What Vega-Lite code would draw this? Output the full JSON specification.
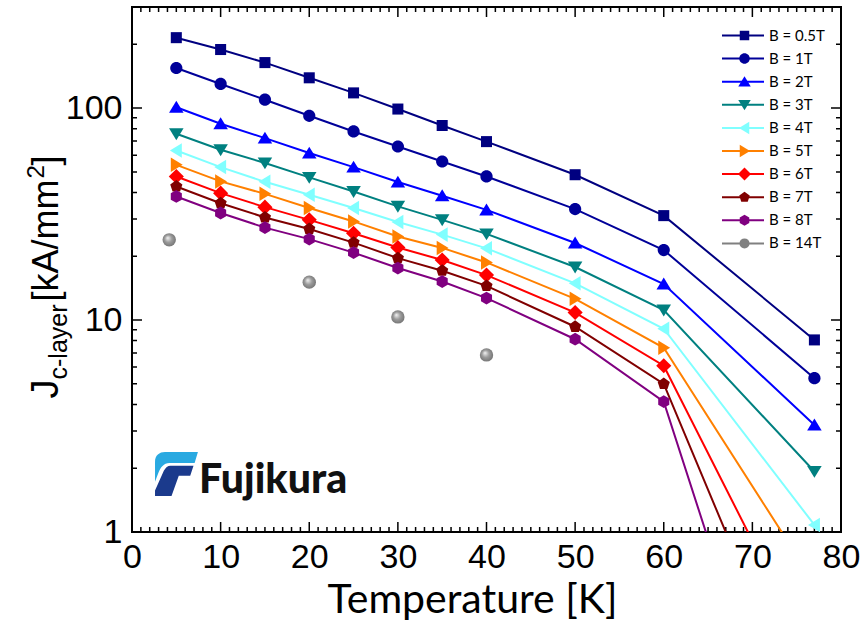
{
  "$schema": "https://vega.github.io/schema/vega-lite/v6.json",
  "width": 709,
  "height": 525,
  "autosize": "none",
  "padding": {"left": 132, "top": 7, "right": 19, "bottom": 108},
  "background": "white",
  "config": {"view": {"stroke": "black", "strokeWidth": 2}, "axis": {"grid": false}},
  "data": {"values": [
    {"B": "B = 0.5T", "T": 5, "J": 215}, {"B": "B = 0.5T", "T": 10, "J": 189}, {"B": "B = 0.5T", "T": 15, "J": 164}, {"B": "B = 0.5T", "T": 20, "J": 139}, {"B": "B = 0.5T", "T": 25, "J": 118}, {"B": "B = 0.5T", "T": 30, "J": 99}, {"B": "B = 0.5T", "T": 35, "J": 82.8}, {"B": "B = 0.5T", "T": 40, "J": 69.5}, {"B": "B = 0.5T", "T": 50, "J": 48.5}, {"B": "B = 0.5T", "T": 60, "J": 31.1}, {"B": "B = 0.5T", "T": 77, "J": 8.06},
    {"B": "B = 1T", "T": 5, "J": 154.6}, {"B": "B = 1T", "T": 10, "J": 130}, {"B": "B = 1T", "T": 15, "J": 109.6}, {"B": "B = 1T", "T": 20, "J": 92}, {"B": "B = 1T", "T": 25, "J": 77.6}, {"B": "B = 1T", "T": 30, "J": 65.9}, {"B": "B = 1T", "T": 35, "J": 56}, {"B": "B = 1T", "T": 40, "J": 47.6}, {"B": "B = 1T", "T": 50, "J": 33.4}, {"B": "B = 1T", "T": 60, "J": 21.4}, {"B": "B = 1T", "T": 77, "J": 5.32},
    {"B": "B = 2T", "T": 5, "J": 101}, {"B": "B = 2T", "T": 10, "J": 84.4}, {"B": "B = 2T", "T": 15, "J": 72.2}, {"B": "B = 2T", "T": 20, "J": 61.4}, {"B": "B = 2T", "T": 25, "J": 52.7}, {"B": "B = 2T", "T": 30, "J": 44.8}, {"B": "B = 2T", "T": 35, "J": 38.6}, {"B": "B = 2T", "T": 40, "J": 33.1}, {"B": "B = 2T", "T": 50, "J": 23.1}, {"B": "B = 2T", "T": 60, "J": 14.8}, {"B": "B = 2T", "T": 77, "J": 3.2},
    {"B": "B = 3T", "T": 5, "J": 75.7}, {"B": "B = 3T", "T": 10, "J": 63.6}, {"B": "B = 3T", "T": 15, "J": 55.1}, {"B": "B = 3T", "T": 20, "J": 47.1}, {"B": "B = 3T", "T": 25, "J": 40.4}, {"B": "B = 3T", "T": 30, "J": 34.4}, {"B": "B = 3T", "T": 35, "J": 29.7}, {"B": "B = 3T", "T": 40, "J": 25.5}, {"B": "B = 3T", "T": 50, "J": 17.8}, {"B": "B = 3T", "T": 60, "J": 11.15}, {"B": "B = 3T", "T": 77, "J": 1.93},
    {"B": "B = 4T", "T": 5, "J": 63.1}, {"B": "B = 4T", "T": 10, "J": 52.7}, {"B": "B = 4T", "T": 15, "J": 44.9}, {"B": "B = 4T", "T": 20, "J": 39.0}, {"B": "B = 4T", "T": 25, "J": 33.8}, {"B": "B = 4T", "T": 30, "J": 29.0}, {"B": "B = 4T", "T": 35, "J": 25.3}, {"B": "B = 4T", "T": 40, "J": 21.8}, {"B": "B = 4T", "T": 50, "J": 14.9}, {"B": "B = 4T", "T": 60, "J": 9.1}, {"B": "B = 4T", "T": 77, "J": 1.08},
    {"B": "B = 5T", "T": 5, "J": 54.0}, {"B": "B = 5T", "T": 10, "J": 45.1}, {"B": "B = 5T", "T": 15, "J": 39.4}, {"B": "B = 5T", "T": 20, "J": 33.8}, {"B": "B = 5T", "T": 25, "J": 29.2}, {"B": "B = 5T", "T": 30, "J": 24.8}, {"B": "B = 5T", "T": 35, "J": 21.9}, {"B": "B = 5T", "T": 40, "J": 18.7}, {"B": "B = 5T", "T": 50, "J": 12.6}, {"B": "B = 5T", "T": 60, "J": 7.4}, {"B": "B = 5T", "T": 77, "J": 0.574},
    {"B": "B = 6T", "T": 5, "J": 47.6}, {"B": "B = 6T", "T": 10, "J": 39.7}, {"B": "B = 6T", "T": 15, "J": 34.1}, {"B": "B = 6T", "T": 20, "J": 29.7}, {"B": "B = 6T", "T": 25, "J": 25.7}, {"B": "B = 6T", "T": 30, "J": 22.0}, {"B": "B = 6T", "T": 35, "J": 19.2}, {"B": "B = 6T", "T": 40, "J": 16.3}, {"B": "B = 6T", "T": 50, "J": 10.85}, {"B": "B = 6T", "T": 60, "J": 6.09}, {"B": "B = 6T", "T": 77, "J": 0.24},
    {"B": "B = 7T", "T": 5, "J": 42.7}, {"B": "B = 7T", "T": 10, "J": 35.6}, {"B": "B = 7T", "T": 15, "J": 30.5}, {"B": "B = 7T", "T": 20, "J": 26.9}, {"B": "B = 7T", "T": 25, "J": 23.2}, {"B": "B = 7T", "T": 30, "J": 19.6}, {"B": "B = 7T", "T": 35, "J": 17.1}, {"B": "B = 7T", "T": 40, "J": 14.5}, {"B": "B = 7T", "T": 50, "J": 9.3}, {"B": "B = 7T", "T": 60, "J": 5.0}, {"B": "B = 7T", "T": 77, "J": 0.1},
    {"B": "B = 8T", "T": 5, "J": 38.3}, {"B": "B = 8T", "T": 10, "J": 32.0}, {"B": "B = 8T", "T": 15, "J": 27.3}, {"B": "B = 8T", "T": 20, "J": 24.1}, {"B": "B = 8T", "T": 25, "J": 20.8}, {"B": "B = 8T", "T": 30, "J": 17.6}, {"B": "B = 8T", "T": 35, "J": 15.2}, {"B": "B = 8T", "T": 40, "J": 12.7}, {"B": "B = 8T", "T": 50, "J": 8.12}, {"B": "B = 8T", "T": 60, "J": 4.12}, {"B": "B = 8T", "T": 77, "J": 0.026},
    {"B": "B = 14T", "T": 4.2, "J": 23.9}, {"B": "B = 14T", "T": 20, "J": 15.1}, {"B": "B = 14T", "T": 30, "J": 10.35}, {"B": "B = 14T", "T": 40, "J": 6.85}
  ]},
  "resolve": {"axis": {"x": "independent", "y": "independent"}},
  "layer": [
    {
      "data": {"values": [{"t": 10}, {"t": 20}, {"t": 30}, {"t": 40}, {"t": 50}, {"t": 60}, {"t": 70}]},
      "mark": {"type": "rule", "color": "black", "strokeWidth": 1.5, "strokeDash": [10, 505, 10, 700]},
      "encoding": {
        "x": {"field": "t", "type": "quantitative", "scale": {"domain": [0, 80], "nice": false, "zero": false}, "axis": null},
        "y": {"datum": 1, "type": "quantitative", "scale": {"type": "log", "domain": [1, 300], "nice": false}, "axis": null},
        "y2": {"datum": 300}
      }
    },
    {
      "data": {"values": [{"t":1},{"t":2},{"t":3},{"t":4},{"t":5},{"t":6},{"t":7},{"t":8},{"t":9},{"t":11},{"t":12},{"t":13},{"t":14},{"t":15},{"t":16},{"t":17},{"t":18},{"t":19},{"t":21},{"t":22},{"t":23},{"t":24},{"t":25},{"t":26},{"t":27},{"t":28},{"t":29},{"t":31},{"t":32},{"t":33},{"t":34},{"t":35},{"t":36},{"t":37},{"t":38},{"t":39},{"t":41},{"t":42},{"t":43},{"t":44},{"t":45},{"t":46},{"t":47},{"t":48},{"t":49},{"t":51},{"t":52},{"t":53},{"t":54},{"t":55},{"t":56},{"t":57},{"t":58},{"t":59},{"t":61},{"t":62},{"t":63},{"t":64},{"t":65},{"t":66},{"t":67},{"t":68},{"t":69},{"t":71},{"t":72},{"t":73},{"t":74},{"t":75},{"t":76},{"t":77},{"t":78},{"t":79}]},
      "mark": {"type": "rule", "color": "black", "strokeWidth": 1.5, "strokeDash": [5, 515, 5, 700]},
      "encoding": {
        "x": {"field": "t", "type": "quantitative", "scale": {"domain": [0, 80], "nice": false, "zero": false}, "axis": null},
        "y": {"datum": 1, "type": "quantitative", "scale": {"type": "log", "domain": [1, 300], "nice": false}, "axis": null},
        "y2": {"datum": 300}
      }
    },
    {
      "data": {"values": [{"v": 10}, {"v": 100}]},
      "mark": {"type": "rule", "color": "black", "strokeWidth": 1.5, "strokeDash": [10, 689, 10, 900]},
      "encoding": {
        "y": {"field": "v", "type": "quantitative", "scale": {"type": "log", "domain": [1, 300], "nice": false}, "axis": null},
        "x": {"datum": 0, "type": "quantitative", "scale": {"domain": [0, 80], "nice": false, "zero": false}, "axis": null},
        "x2": {"datum": 80}
      }
    },
    {
      "data": {"values": [{"v": 2}, {"v": 3}, {"v": 4}, {"v": 5}, {"v": 6}, {"v": 7}, {"v": 8}, {"v": 9}, {"v": 20}, {"v": 30}, {"v": 40}, {"v": 50}, {"v": 60}, {"v": 70}, {"v": 80}, {"v": 90}, {"v": 200}]},
      "mark": {"type": "rule", "color": "black", "strokeWidth": 1.5, "strokeDash": [5, 699, 5, 900]},
      "encoding": {
        "y": {"field": "v", "type": "quantitative", "scale": {"type": "log", "domain": [1, 300], "nice": false}, "axis": null},
        "x": {"datum": 0, "type": "quantitative", "scale": {"domain": [0, 80], "nice": false, "zero": false}, "axis": null},
        "x2": {"datum": 80}
      }
    },
    {
      "transform": [{"filter": "indexof(['B = 0.5T','B = 1T','B = 2T','B = 3T','B = 4T'], datum.B) >= 0"}],
      "mark": {"type": "line", "strokeWidth": 2, "clip": true},
      "encoding": {
        "x": {"field": "T", "type": "quantitative", "scale": {"domain": [0, 80], "nice": false, "zero": false},
          "axis": {"orient": "bottom", "values": [0, 10, 20, 30, 40, 50, 60, 70, 80], "ticks": false, "domain": false, "grid": false,
            "labelOverlap": false, "labelFlush": false, "labelBound": false,
            "labelFont": "Liberation Sans", "labelFontSize": 34, "labelColor": "black", "labelPadding": 8,
            "title": "Temperature [K]", "titleX": 340, "titleFont": "Lato", "titleFontSize": 41, "titleFontWeight": "normal", "titleColor": "black", "titlePadding": 6}},
        "y": {"field": "J", "type": "quantitative", "scale": {"type": "log", "domain": [1, 300], "nice": false},
          "axis": {"orient": "left", "values": [1, 10, 100], "ticks": false, "domain": false, "grid": false,
            "labelExpr": "datum.value === 1 ? '1' : datum.value === 10 ? '10' : '100'", "labelOverlap": false, "labelFlush": false, "labelBound": false,
            "labelFont": "Liberation Sans", "labelFontSize": 34, "labelColor": "black", "labelPadding": 10,
            "title": "J", "titleX": -75, "titleY": 391, "titleAngle": 270, "titleAlign": "left", "titleBaseline": "alphabetic",
            "titleFont": "Liberation Sans", "titleFontSize": 38, "titleFontWeight": "normal", "titleColor": "black"}},
        "stroke": {"field": "B", "type": "nominal",
          "scale": {"domain": ["B = 0.5T", "B = 1T", "B = 2T", "B = 3T", "B = 4T", "B = 5T", "B = 6T", "B = 7T", "B = 8T", "B = 14T"],
            "range": ["#000080", "#000099", "#0000FF", "#008080", "#80FFFF", "#FF8000", "#FF0000", "#800000", "#800080", "#808080"]},
          "legend": {"orient": "none", "legendX": 589, "legendY": 19, "title": null, "labelFont": "Lato", "labelFontSize": 15, "labelColor": "black",
            "symbolType": "stroke", "symbolSize": 1764, "symbolStrokeWidth": 2, "symbolOffset": 0, "labelOffset": 4, "rowPadding": 4.1, "clipHeight": 19, "padding": 0}}
      }
    },
    {
      "transform": [{"filter": "indexof(['B = 5T','B = 6T','B = 7T','B = 8T'], datum.B) >= 0"}],
      "mark": {"type": "line", "strokeWidth": 2, "clip": true},
      "encoding": {
        "x": {"field": "T", "type": "quantitative", "scale": {"domain": [0, 80], "nice": false, "zero": false}, "axis": null},
        "y": {"field": "J", "type": "quantitative", "scale": {"type": "log", "domain": [1, 300], "nice": false}, "axis": null},
        "stroke": {"field": "B", "type": "nominal",
          "scale": {"domain": ["B = 0.5T", "B = 1T", "B = 2T", "B = 3T", "B = 4T", "B = 5T", "B = 6T", "B = 7T", "B = 8T", "B = 14T"],
            "range": ["#000080", "#000099", "#0000FF", "#008080", "#80FFFF", "#FF8000", "#FF0000", "#800000", "#800080", "#808080"]},
          "legend": {"orient": "none", "legendX": 589, "legendY": 19, "title": null, "labelFont": "Lato", "labelFontSize": 15, "labelColor": "black",
            "symbolType": "stroke", "symbolSize": 1764, "symbolStrokeWidth": 2, "symbolOffset": 0, "labelOffset": 4, "rowPadding": 4.1, "clipHeight": 19, "padding": 0}}
      }
    },
    {
      "mark": {"type": "point", "filled": true, "opacity": 1, "size": 135, "clip": true},
      "encoding": {
        "x": {"field": "T", "type": "quantitative", "scale": {"domain": [0, 80], "nice": false, "zero": false}, "axis": null},
        "y": {"field": "J", "type": "quantitative", "scale": {"type": "log", "domain": [1, 300], "nice": false},
          "axis": {"orient": "left", "ticks": false, "domain": false, "labels": false, "grid": false,
            "title": "c-layer", "titleX": -66, "titleY": 372, "titleAngle": 270, "titleAlign": "left", "titleBaseline": "alphabetic",
            "titleFont": "Liberation Sans", "titleFontSize": 25, "titleFontWeight": "normal", "titleColor": "black"}},
        "fill": {"field": "B", "type": "nominal", "sort": null,
          "scale": {"range": ["#000080", "#000099", "#0000FF", "#008080", "#80FFFF", "#FF8000", "#FF0000", "#800000", "#800080", "#808080"]},
          "legend": {"orient": "none", "legendX": 589, "legendY": 19, "title": null, "labelFont": "Lato", "labelFontSize": 15, "labelExpr": "''",
            "symbolSize": 100, "symbolOffset": 16, "symbolStrokeWidth": 0, "labelOffset": 4, "rowPadding": 4.1, "clipHeight": 19, "padding": 0}},
        "shape": {"field": "B", "type": "nominal", "sort": null,
          "scale": {"range": ["M-0.95,-0.95H0.95V0.95H-0.95Z", "M-1.05,0A1.05,1.05 0 1,0 1.05,0A1.05,1.05 0 1,0 -1.05,0Z", "M0,-1.1L1.25,0.95L-1.25,0.95Z", "M0,1.1L1.25,-0.95L-1.25,-0.95Z", "M-1.1,0L0.95,-1.25L0.95,1.25Z", "M1.1,0L-0.95,-1.25L-0.95,1.25Z", "M0,-1.3L1.3,0L0,1.3L-1.3,0Z", "M0,-1.1L1.046,-0.34L0.647,0.89L-0.647,0.89L-1.046,-0.34Z", "M0,-1.1L0.953,-0.55L0.953,0.55L0,1.1L-0.953,0.55L-0.953,-0.55Z", "circle"]},
          "legend": {"orient": "none", "legendX": 589, "legendY": 19, "title": null, "labelFont": "Lato", "labelFontSize": 15, "labelExpr": "''",
            "symbolSize": 100, "symbolOffset": 16, "symbolStrokeWidth": 0, "labelOffset": 4, "rowPadding": 4.1, "clipHeight": 19, "padding": 0}}
      }
    },
    {
      "transform": [{"filter": "datum.B === 'B = 14T'"}],
      "mark": {"type": "point", "shape": "circle", "filled": true, "opacity": 1, "size": 180, "clip": true,
        "fill": {"gradient": "radial", "x1": 0.38, "y1": 0.35, "r1": 0, "x2": 0.5, "y2": 0.5, "r2": 0.6,
          "stops": [{"offset": 0, "color": "#f4f4f4"}, {"offset": 0.45, "color": "#9c9c9c"}, {"offset": 1, "color": "#6a6a6a"}]}},
      "encoding": {
        "x": {"field": "T", "type": "quantitative", "scale": {"domain": [0, 80], "nice": false, "zero": false}, "axis": null},
        "y": {"field": "J", "type": "quantitative", "scale": {"type": "log", "domain": [1, 300], "nice": false}, "axis": null}
      }
    },
    {
      "data": {"values": [{}]},
      "mark": {"type": "text", "text": "Fujikura", "align": "left", "baseline": "alphabetic", "font": "Lato", "fontWeight": 900, "fontSize": 41, "fill": "#111111"},
      "encoding": {
        "x": {"datum": 7.56, "type": "quantitative", "scale": {"domain": [0, 80], "nice": false, "zero": false}, "axis": null},
        "y": {"datum": 1.528, "type": "quantitative", "scale": {"type": "log", "domain": [1, 300], "nice": false},
          "axis": {"orient": "left", "domain": false, "ticks": false, "labels": false, "grid": false,
            "title": "[kA/mm", "titleX": -75, "titleY": 294, "titleAngle": 270, "titleAlign": "left", "titleBaseline": "alphabetic",
            "titleFont": "Liberation Sans", "titleFontSize": 36, "titleFontWeight": "normal", "titleColor": "black"}}
      }
    },
    {
      "data": {"values": [{}]},
      "mark": {"type": "point", "filled": true, "opacity": 1, "size": 1936, "fill": "#29a9e1",
        "shape": "M-0.55,-1L0.95,-1L0.8,-0.5L-0.35,-0.5C-0.6,-0.5 -0.75,-0.3 -0.85,-0.05L-1,0.35L-1,-0.55C-1,-0.85 -0.8,-1 -0.55,-1Z"},
      "encoding": {
        "x": {"datum": 5.08, "type": "quantitative", "scale": {"domain": [0, 80], "nice": false, "zero": false}, "axis": null},
        "y": {"datum": 1.878, "type": "quantitative", "scale": {"type": "log", "domain": [1, 300], "nice": false},
          "axis": {"orient": "left", "domain": false, "ticks": false, "labels": false, "grid": false,
            "title": "2", "titleX": -89, "titleY": 171, "titleAngle": 270, "titleAlign": "left", "titleBaseline": "alphabetic",
            "titleFont": "Liberation Sans", "titleFontSize": 24, "titleFontWeight": "normal", "titleColor": "black"}}
      }
    },
    {
      "data": {"values": [{}]},
      "mark": {"type": "point", "filled": true, "opacity": 1, "size": 1936, "fill": "#1b3a8c",
        "shape": "M-0.3,-0.38L0.75,-0.38L0.6,0.08L0.08,0.08L-0.25,1L-1,1L-1,0.75L-0.6,-0.15C-0.52,-0.3 -0.42,-0.38 -0.3,-0.38Z"},
      "encoding": {
        "x": {"datum": 5.08, "type": "quantitative", "scale": {"domain": [0, 80], "nice": false, "zero": false}, "axis": null},
        "y": {"datum": 1.878, "type": "quantitative", "scale": {"type": "log", "domain": [1, 300], "nice": false},
          "axis": {"orient": "left", "domain": false, "ticks": false, "labels": false, "grid": false,
            "title": "]", "titleX": -75, "titleY": 158, "titleAngle": 270, "titleAlign": "left", "titleBaseline": "alphabetic",
            "titleFont": "Liberation Sans", "titleFontSize": 36, "titleFontWeight": "normal", "titleColor": "black"}}
      }
    }
  ]
}
